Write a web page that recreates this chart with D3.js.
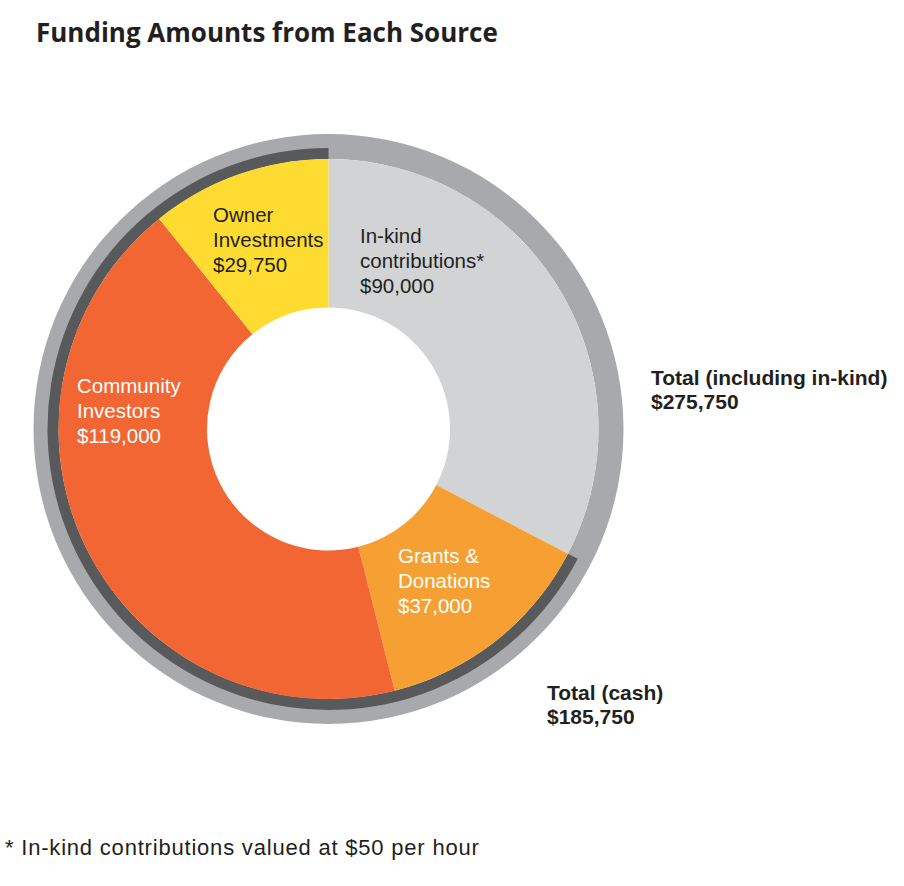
<!DOCTYPE html>
<html>
<head>
<meta charset="utf-8">
<script src="https://cdn.jsdelivr.net/npm/d3@7"></script>
<style>
  body { margin: 0; background: #fff; }
  svg text { font-family: "Liberation Sans", Arial, sans-serif; }
</style>
</head>
<body>
<div id="chart"></div>
<script>
// data
const categories = ['In-kind contributions*', 'Grants & Donations', 'Community Investors', 'Owner Investments'];
const amounts = [90000, 37000, 119000, 29750];
const isCash = [false, true, true, true];
const labelLines = [
  ['In-kind', 'contributions*'],
  ['Grants &', 'Donations'],
  ['Community', 'Investors'],
  ['Owner', 'Investments']
];
const colors = ['#d1d3d4', '#f6a033', '#f16632', '#fedb30'];

const width = 904, height = 886;
const cx = 328.5, cy = 429;
const rInner = 121.5, rOuter = 270, rDark = 281, rRing = 295;

const fmt = d3.format('$,');

// where each segment label starts, relative to the centre
const labelPos = [[31.5, -186], [69.5, 134], [-251.5, -36], [-115.5, -207]];

const svg = d3.select('#chart').append('svg')
  .attr('width', width)
  .attr('height', height);

svg.append('text')
  .attr('x', 36).attr('y', 42)
  .style('font-family', '"Open Sans", Lato, sans-serif')
  .style('font-weight', 700)
  .style('font-size', '26px')
  .attr('fill', '#231f20')
  .text('Funding Amounts from Each Source');

const data = categories.map((c, i) => ({ name: c, value: amounts[i], cash: isCash[i], i }));

const pie = d3.pie().sort(null).value(d => d.value);
const arcs = pie(data);

const g = svg.append('g').attr('transform', `translate(${cx},${cy})`);

// outer ring: total including in-kind
g.append('path')
  .attr('d', d3.arc().innerRadius(rOuter).outerRadius(rRing).startAngle(0).endAngle(2 * Math.PI)())
  .attr('fill', '#a7a9ac');

// inner ring: cash total
const cashArcs = arcs.filter(a => a.data.cash);
g.append('path')
  .attr('d', d3.arc().innerRadius(rOuter).outerRadius(rDark)
    .startAngle(d3.min(cashArcs, a => a.startAngle))
    .endAngle(d3.max(cashArcs, a => a.endAngle))())
  .attr('fill', '#58595b');

const arc = d3.arc().innerRadius(rInner).outerRadius(rOuter);
g.selectAll('path.seg')
  .data(arcs)
  .join('path')
  .attr('class', 'seg')
  .attr('d', arc)
  .attr('fill', (d, i) => colors[i]);

// segment labels
const lbl = g.selectAll('text.seg')
  .data(arcs)
  .join('text')
  .attr('class', 'seg')
  .attr('x', (d, i) => labelPos[i][0])
  .attr('y', (d, i) => labelPos[i][1])
  .attr('fill', d => (d.data.i === 1 || d.data.i === 2) ? '#fff' : '#231f20')
  .style('font-size', '20.5px');

lbl.selectAll('tspan')
  .data(d => labelLines[d.data.i].concat([fmt(d.data.value)]).map(t => ({ t, x: labelPos[d.data.i][0] })))
  .join('tspan')
  .attr('x', d => d.x)
  .attr('dy', (d, j) => j === 0 ? 0 : 25)
  .text(d => d.t);

// totals
const totalAll = d3.sum(amounts);
const totalCash = d3.sum(amounts.filter((v, i) => isCash[i]));
const totals = [
  { lines: ['Total (including in-kind)', fmt(totalAll)], x: 651, y: 385 },
  { lines: ['Total (cash)', fmt(totalCash)], x: 547, y: 700 }
];
svg.selectAll('text.total')
  .data(totals)
  .join('text')
  .attr('class', 'total')
  .attr('y', d => d.y)
  .style('font-weight', 700)
  .style('font-size', '21px')
  .attr('fill', '#231f20')
  .selectAll('tspan')
  .data(d => d.lines.map(t => ({ t, x: d.x })))
  .join('tspan')
  .attr('x', d => d.x)
  .attr('dy', (d, j) => j === 0 ? 0 : 24)
  .text(d => d.t);

svg.append('text')
  .attr('x', 5).attr('y', 855)
  .style('font-size', '22px')
  .style('letter-spacing', '0.8px')
  .attr('fill', '#231f20')
  .text('* In-kind contributions valued at $50 per hour');
</script>
</body>
</html>
